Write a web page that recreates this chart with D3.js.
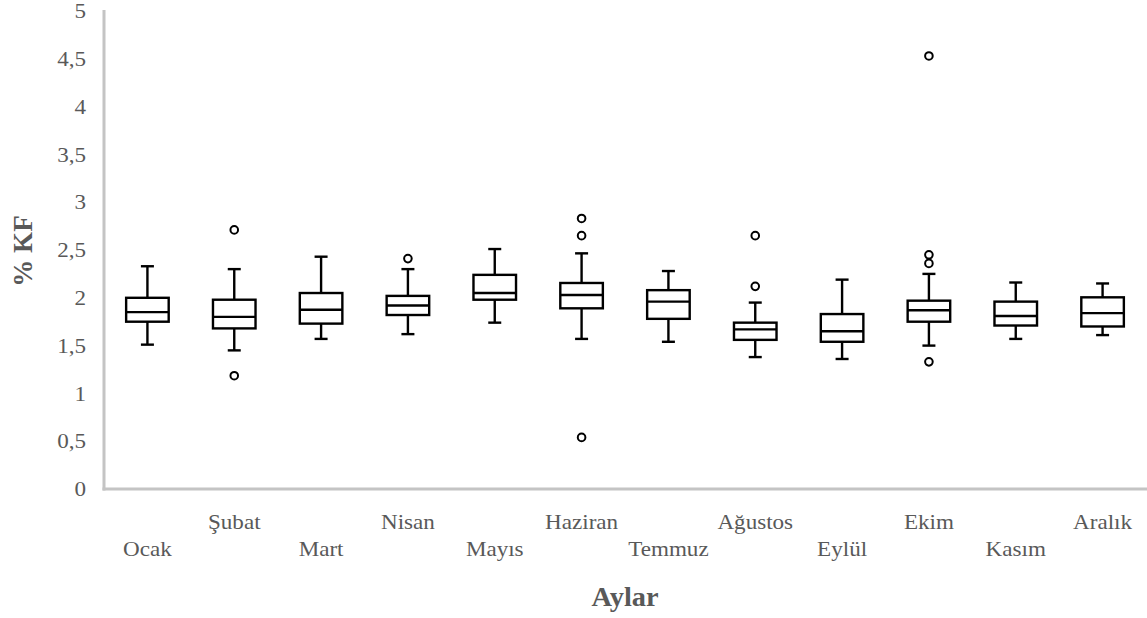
<!DOCTYPE html>
<html>
<head>
<meta charset="utf-8">
<script src="https://cdn.jsdelivr.net/npm/d3@7"></script>
<style>
  html, body { margin: 0; padding: 0; background: #fff; }
  svg { display: block; }
  text { font-family: "Liberation Serif", "Times New Roman", serif; fill: #595959; }
</style>
</head>
<body>
<svg id="chart" width="1147" height="618"></svg>
<script>
// Monthly % KF distributions (box plot summaries)
const months = ["Ocak", "Şubat", "Mart", "Nisan", "Mayıs", "Haziran", "Temmuz", "Ağustos", "Eylül", "Ekim", "Kasım", "Aralık"];
const whiskerLow  = [1.51, 1.45, 1.57, 1.62, 1.74, 1.57, 1.54, 1.38, 1.36, 1.50, 1.57, 1.61];
const q1          = [1.75, 1.68, 1.73, 1.82, 1.98, 1.89, 1.78, 1.56, 1.54, 1.75, 1.71, 1.70];
const median      = [1.85, 1.80, 1.875, 1.92, 2.05, 2.03, 1.96, 1.67, 1.65, 1.87, 1.81, 1.84];
const q3          = [2.00, 1.98, 2.05, 2.02, 2.24, 2.155, 2.08, 1.74, 1.83, 1.97, 1.96, 2.005];
const whiskerHigh = [2.33, 2.30, 2.43, 2.30, 2.51, 2.465, 2.28, 1.95, 2.19, 2.25, 2.16, 2.15];
const outliers    = [[], [2.71, 1.185], [], [2.41], [], [2.83, 2.65, 0.54], [], [2.65, 2.12], [], [4.53, 2.45, 2.36, 1.33], [], []];
const yTicks = [0, 0.5, 1, 1.5, 2, 2.5, 3, 3.5, 4, 4.5, 5];

const svg = d3.select("#chart");
const plotLeft = 104, plotRight = 1146, plotTop = 11, plotBottom = 489;
const stretch = 1.1; // labels are drawn slightly wide

const x = d3.scaleBand().domain(months).range([plotLeft, plotRight]).paddingInner(0).paddingOuter(0);
const y = d3.scaleLinear().domain([0, 5]).range([plotBottom, plotTop]);

const fmt = d => String(d).replace(".", ",");

// Y axis labels
const yAxis = d3.axisLeft(y).tickValues(yTicks).tickFormat(fmt).tickSize(0).tickPadding(18 / stretch);
const gy = svg.append("g").attr("transform", `translate(${plotLeft},0)`).call(yAxis);
gy.select(".domain").remove();
gy.selectAll("text")
  .attr("font-size", 21).style("font-family", "Liberation Serif").attr("fill", "#595959")
  .attr("transform", `scale(${stretch},1)`);

// Axis lines
svg.append("line").attr("x1", plotLeft).attr("x2", plotLeft).attr("y1", 10).attr("y2", plotBottom + 1.5)
  .attr("stroke", "#c4c4c4").attr("stroke-width", 3);
svg.append("line").attr("x1", plotLeft - 1.5).attr("x2", 1147).attr("y1", plotBottom).attr("y2", plotBottom)
  .attr("stroke", "#c4c4c4").attr("stroke-width", 3);

// X labels in two staggered rows
const xAxis = d3.axisBottom(x).tickSize(0);
const gx = svg.append("g").attr("transform", `translate(0,${plotBottom})`).call(xAxis);
gx.select(".domain").remove();
gx.selectAll("text")
  .attr("font-size", 21).style("font-family", "Liberation Serif").attr("fill", "#595959")
  .attr("dy", null)
  .attr("y", (d, i) => i % 2 === 1 ? 40.5 : 67.5)
  .attr("transform", `scale(${stretch},1)`);

// Boxes
const bw = x.bandwidth() * 0.49;
const capW = 13;
const g = svg.append("g").attr("stroke", "#000").attr("stroke-width", 2.4).attr("fill", "none");
months.forEach((m, i) => {
  const cx = x(m) + x.bandwidth() / 2;
  const b = g.append("g");
  b.append("line").attr("x1", cx).attr("x2", cx).attr("y1", y(whiskerHigh[i])).attr("y2", y(q3[i]));
  b.append("line").attr("x1", cx).attr("x2", cx).attr("y1", y(q1[i])).attr("y2", y(whiskerLow[i]));
  b.append("line").attr("x1", cx - capW / 2).attr("x2", cx + capW / 2).attr("y1", y(whiskerHigh[i])).attr("y2", y(whiskerHigh[i]));
  b.append("line").attr("x1", cx - capW / 2).attr("x2", cx + capW / 2).attr("y1", y(whiskerLow[i])).attr("y2", y(whiskerLow[i]));
  b.append("rect").attr("x", cx - bw / 2).attr("width", bw)
    .attr("y", y(q3[i])).attr("height", y(q1[i]) - y(q3[i])).attr("fill", "#fff");
  b.append("line").attr("x1", cx - bw / 2).attr("x2", cx + bw / 2).attr("y1", y(median[i])).attr("y2", y(median[i]));
  outliers[i].forEach(v => {
    b.append("circle").attr("cx", cx).attr("cy", y(v)).attr("r", 3.8).attr("fill", "#fff").attr("stroke-width", 2);
  });
});

// Axis titles
const midX = plotLeft + (plotRight - plotLeft) / 2;
svg.append("text").attr("transform", `translate(${midX},606) scale(1.05,1)`)
  .attr("text-anchor", "middle").attr("font-size", 27).attr("font-weight", "bold").text("Aylar");
svg.append("text").attr("transform", "translate(32,251) rotate(-90)")
  .attr("text-anchor", "middle").attr("font-size", 27).attr("font-weight", "bold").text("% KF");
</script>
</body>
</html>
